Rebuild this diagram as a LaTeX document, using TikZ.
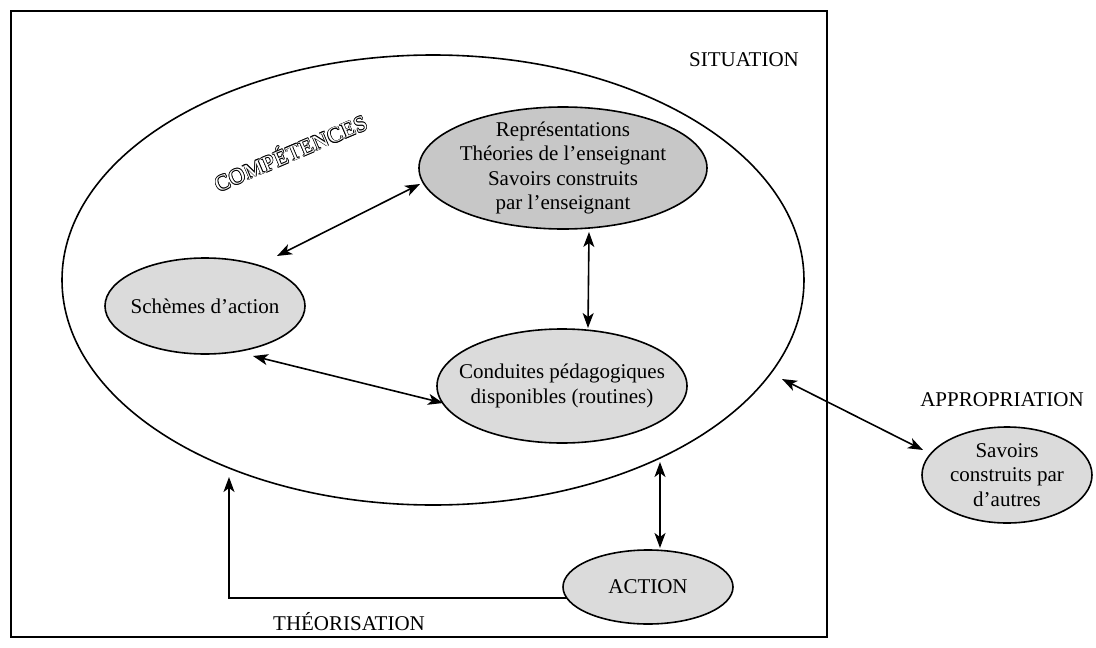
\documentclass[tikz,border=0pt]{standalone}
\usepackage{fontspec}
\setmainfont{Liberation Serif}
\usetikzlibrary{shapes.geometric,arrows.meta,calc}

% white letters with a thin black outline
\newcommand\engraved[1]{%
  \leavevmode
  \rlap{\kern0.7pt#1}\rlap{\kern-0.7pt#1}%
  \rlap{\raisebox{0.7pt}{#1}}\rlap{\raisebox{-0.7pt}{#1}}%
  \rlap{\kern0.5pt\raisebox{0.5pt}{#1}}\rlap{\kern-0.5pt\raisebox{0.5pt}{#1}}%
  \rlap{\kern0.5pt\raisebox{-0.5pt}{#1}}\rlap{\kern-0.5pt\raisebox{-0.5pt}{#1}}%
  \textcolor{white}{#1}}

\definecolor{lightfill}{gray}{0.86}
\definecolor{darkfill}{gray}{0.78}

\begin{document}
\begin{tikzpicture}[x=1pt,y=-1pt,
  >={Stealth[length=15pt,width=11pt,inset=4pt]},
  every node/.style={font=\fontsize{21}{24.5}\selectfont, align=center, inner sep=0pt},
  bubble/.style={ellipse, draw, line width=1.6pt, fill=lightfill},
  frame/.style={draw, line width=1.6pt},
  link/.style={line width=1.6pt, <->},
  oneway/.style={line width=1.6pt, ->},
]
\useasboundingbox (0,0) rectangle (1096,648);

% situation frame
\draw[frame] (11,11) rectangle (827,637);
\node (situation) at (744,60) {SITUATION};

% competences
\node[ellipse, draw, line width=1.6pt, minimum width=742pt, minimum height=450pt] (big) at (433,280) {};
\node[rotate=23] (comp) at (290,152) {\fontsize{22}{22}\selectfont\addfontfeature{LetterSpace=2}\engraved{COMPÉTENCES}};

\node[bubble, fill=darkfill, minimum width=288pt, minimum height=122pt] (rep) at (563,168) {};
\node (reptext) at (rep) {Représentations\\Théories de l'enseignant\\Savoirs construits\\par l'enseignant};

\node[bubble, minimum width=200pt, minimum height=96pt] (sch) at (205,306) {};
\node (schtext) at (sch) {Schèmes d'action};

\node[bubble, minimum width=250pt, minimum height=114pt] (cond) at (562,386) {};
\node (condtext) at (cond) {Conduites pédagogiques\\disponibles (routines)};

% action
\node[bubble, minimum width=170pt, minimum height=74pt] (act) at (648,587) {};
\node (acttext) at (act) {ACTION};

% knowledge from others
\node[bubble, minimum width=170pt, minimum height=96pt] (sav) at (1007,475) {};
\node (savtext) at (sav) {Savoirs\\construits par\\d'autres};

\node (approp) at (1002,400) {APPROPRIATION};
\node (theor) at (349,622) {THÉORISATION};

% links
\draw[link] ($(sch)+(72,-50)$) -- ($(rep)+(-143,16)$);
\draw[link] ($(rep)+(26,64)$) -- ($(cond)+(26,-58)$);
\draw[link] ($(sch)+(48,50)$) -- ($(cond)+(-119,17)$);
\draw[link] ($(big)+(349,99)$) -- ($(sav)+(-84,-25)$);
\draw[link] ($(big)+(227,182)$) -- ($(act)+(12,-39)$);
\draw[oneway] ($(act)+(-81,11)$) -| ($(big)+(-204,197)$);
\end{tikzpicture}
\end{document}
